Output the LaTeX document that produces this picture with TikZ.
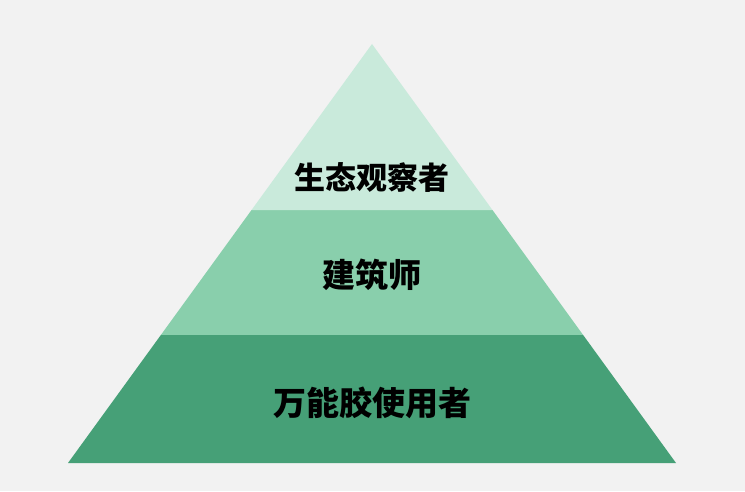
\documentclass[tikz,border=0pt]{standalone}
\usepackage{fontspec}
\newfontfamily\cjk{Noto Sans CJK SC}
\usepackage{tikz}
\usetikzlibrary{calc}

\definecolor{pagebg}{HTML}{F2F2F2}
\definecolor{tiertop}{HTML}{C9EADB}
\definecolor{tiermid}{HTML}{89CFAC}
\definecolor{tierbot}{HTML}{46A077}

\begin{document}
\begin{tikzpicture}[
  x=1pt, y=1pt,
  tier/.style={draw=none},
  tlbl/.style={font=\cjk\bfseries\fontsize{#1}{#1}\selectfont, text=black, inner sep=0pt},
]
  % Canvas
  \fill[pagebg] (0,0) rectangle (745,491);
  \useasboundingbox (0,0) rectangle (745,491);

  % Pyramid corners and tier boundaries
  \coordinate (apex) at (372,447);
  \coordinate (bl) at (68,28);
  \coordinate (br) at (676,28);
  \coordinate (l1) at ($(bl)!0.3055!(apex)$);
  \coordinate (r1) at ($(br)!0.3055!(apex)$);
  \coordinate (l2) at ($(bl)!0.6038!(apex)$);
  \coordinate (r2) at ($(br)!0.6038!(apex)$);

  % Tiers, bottom to top
  \fill[tier, tierbot] (bl) -- (br) -- (r1) -- (l1) -- cycle;
  \fill[tier, tiermid] (l1) -- (r1) -- (r2) -- (l2) -- cycle;
  \fill[tier, tiertop] (l2) -- (r2) -- (apex) -- cycle;

  % Tier labels
  \node[tlbl=31] (observer) at (372,313) {生态观察者};
  \node[tlbl=33] (architect) at (372,216) {建筑师};
  \node[tlbl=33] (gluer) at (372,88) {万能胶使用者};
\end{tikzpicture}
\end{document}
